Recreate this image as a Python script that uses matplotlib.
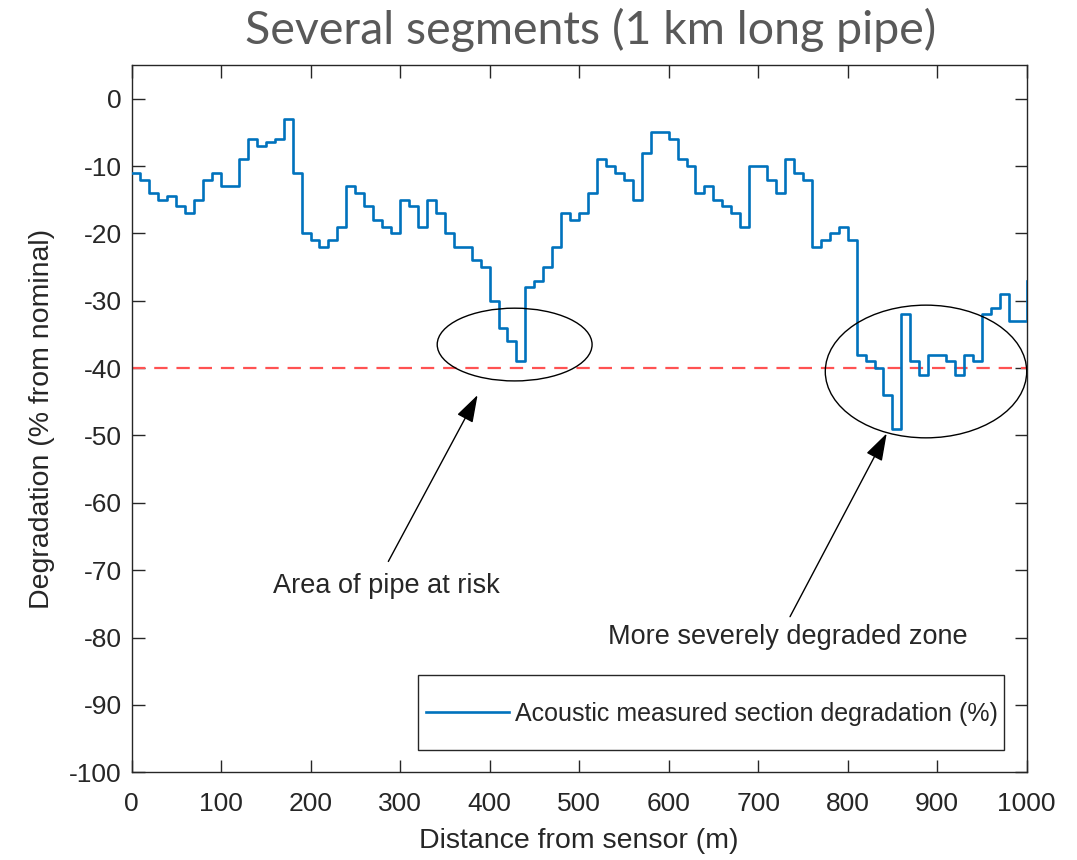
import numpy as np
import matplotlib
matplotlib.use("Agg")
import matplotlib.pyplot as plt
from matplotlib.patches import Ellipse, Rectangle

# ---- data ----
distance_m = np.arange(0, 1001, 10)
degradation = [
    -11, -12, -14, -15, -14.5, -16, -17, -15, -12, -11,
    -13, -13, -9, -6, -7, -6.5, -6, -3, -11, -20,
    -21, -22, -21, -19, -13, -14, -16, -18, -19, -20,
    -15, -16, -19, -15, -17, -20, -22, -22, -24, -25,
    -30, -34, -36, -39, -28, -27, -25, -22, -17, -18,
    -17, -14, -9, -10, -11, -12, -15, -8, -5, -5,
    -6, -9, -10, -14, -13, -15, -16, -17, -19, -10,
    -10, -12, -14, -9, -11, -12, -22, -21, -20, -19,
    -21, -38, -39, -40, -44, -49, -32, -39, -41, -38,
    -38, -39, -41, -38, -39, -32, -31, -29, -33, -33,
    -27,
]
threshold = -40
x_ticks = list(range(0, 1001, 100))
y_ticks = list(range(-100, 1, 10))

title = "Several segments (1 km long pipe)"
xlabel = "Distance from sensor (m)"
ylabel = "Degradation (% from nominal)"
series_label = "Acoustic measured section degradation (%)"
note1 = "Area of pipe at risk"
note2 = "More severely degraded zone"

# ---- figure ----
plt.rcParams['font.family'] = ['Liberation Sans', 'DejaVu Sans']
plt.rcParams['axes.unicode_minus'] = False
fig = plt.figure(figsize=(10.77, 8.6), dpi=100)
ax = fig.add_axes([0.1221, 0.102, 0.8312, 0.8224])

axc = '#262626'
ax.plot(distance_m, degradation, drawstyle='steps-post', color='#0072BD',
        lw=1.9, label=series_label, zorder=3)
ax.axhline(threshold, color='#FF5252', lw=1.6, dashes=(6, 4), zorder=2)

ax.add_patch(Ellipse((428, -36.5), 173, 10.8, fill=False, ec='black', lw=1.0, zorder=4))
ax.add_patch(Ellipse((887.5, -40.5), 225, 19.7, fill=False, ec='black', lw=1.0, zorder=4))

arrow = dict(arrowstyle='-|>,head_length=1.7,head_width=0.55', color='black', lw=1.0,
             shrinkA=0, shrinkB=0)
ax.annotate('', xy=(386.6, -44.0), xytext=(286.9, -68.7), arrowprops=arrow)
ax.annotate('', xy=(843.6, -49.7), xytext=(735.6, -76.9), arrowprops=arrow)
ax.text(285, -72.4, note1, ha='center', va='center', fontsize=19.5, color=axc)
ax.text(733.5, -79.9, note2, ha='center', va='center', fontsize=19.5, color=axc)

ax.set_xlim(0, 1000)
ax.set_ylim(-100, 5)
ax.set_xticks(x_ticks)
ax.set_yticks(y_ticks)
ax.tick_params(direction='in', length=9, width=1.0, colors=axc, labelsize=19,
               top=True, right=True)
ax.tick_params(axis='x', pad=14)
ax.tick_params(axis='y', pad=7)
for s in ax.spines.values():
    s.set_color(axc)
    s.set_linewidth(1.0)
ax.set_xlabel(xlabel, fontsize=20.5, color=axc, labelpad=9)
ax.set_ylabel(ylabel, fontsize=20.5, color=axc, labelpad=10)

# legend with a manually sized box
ax.add_patch(Rectangle((0.3198, 0.0316), 0.9742 - 0.3198, 0.1376 - 0.0316,
                       transform=ax.transAxes, fc='white', ec=axc, lw=1.0, zorder=5))
leg = ax.legend(loc='center left', bbox_to_anchor=(0.329, 0.0824), borderaxespad=0,
                fontsize=18, frameon=False, handlelength=3.3, borderpad=0,
                handletextpad=0.27)
leg.set_zorder(6)
for t in leg.get_texts():
    t.set_color(axc)

fig.text(0.548, 0.965, title, ha='center', va='center', fontsize=33.5,
         color='#595959', family=['Lato', 'DejaVu Sans'])

fig.savefig('out.png', dpi=100)
